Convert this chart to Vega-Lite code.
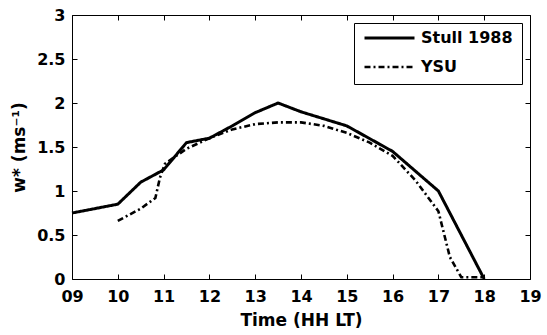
{
  "$schema": "https://vega.github.io/schema/vega-lite/v6.json",
  "width": 458,
  "height": 264,
  "autosize": {"type": "none"},
  "padding": {"left": 72, "top": 15, "right": 17, "bottom": 56},
  "background": "white",
  "config": {
    "font": "DejaVu Sans",
    "view": {"stroke": "black", "strokeWidth": 1},
    "axis": {
      "grid": false,
      "domain": false,
      "tickColor": "black",
      "tickSize": -5,
      "tickWidth": 1,
      "labelColor": "black",
      "labelFont": "DejaVu Sans",
      "labelFontWeight": "bold",
      "labelFontSize": 16,
      "titleColor": "black",
      "titleFont": "DejaVu Sans",
      "titleFontWeight": "bold",
      "titleFontSize": 17
    }
  },
  "data": {
    "values": [
      {"series": "Stull 1988", "time": 9, "w": 0.75},
      {"series": "Stull 1988", "time": 10, "w": 0.85},
      {"series": "Stull 1988", "time": 10.5, "w": 1.1},
      {"series": "Stull 1988", "time": 11, "w": 1.24},
      {"series": "Stull 1988", "time": 11.5, "w": 1.55},
      {"series": "Stull 1988", "time": 12, "w": 1.6},
      {"series": "Stull 1988", "time": 12.5, "w": 1.74},
      {"series": "Stull 1988", "time": 13, "w": 1.89},
      {"series": "Stull 1988", "time": 13.5, "w": 2.0},
      {"series": "Stull 1988", "time": 14, "w": 1.9},
      {"series": "Stull 1988", "time": 15, "w": 1.74},
      {"series": "Stull 1988", "time": 16, "w": 1.45},
      {"series": "Stull 1988", "time": 17, "w": 1.0},
      {"series": "Stull 1988", "time": 18, "w": 0.0},
      {"series": "YSU", "time": 10, "w": 0.66},
      {"series": "YSU", "time": 10.5, "w": 0.8},
      {"series": "YSU", "time": 10.82, "w": 0.92},
      {"series": "YSU", "time": 10.92, "w": 1.15},
      {"series": "YSU", "time": 11.03, "w": 1.31},
      {"series": "YSU", "time": 11.5, "w": 1.48},
      {"series": "YSU", "time": 12, "w": 1.6},
      {"series": "YSU", "time": 12.5, "w": 1.7},
      {"series": "YSU", "time": 13, "w": 1.76},
      {"series": "YSU", "time": 13.5, "w": 1.78},
      {"series": "YSU", "time": 14, "w": 1.78},
      {"series": "YSU", "time": 14.5, "w": 1.74},
      {"series": "YSU", "time": 15, "w": 1.66},
      {"series": "YSU", "time": 15.5, "w": 1.55},
      {"series": "YSU", "time": 16, "w": 1.4},
      {"series": "YSU", "time": 16.5, "w": 1.12},
      {"series": "YSU", "time": 17, "w": 0.77},
      {"series": "YSU", "time": 17.25, "w": 0.25},
      {"series": "YSU", "time": 17.5, "w": 0.02},
      {"series": "YSU", "time": 18, "w": 0.02}
    ]
  },
  "layer": [
    {
      "mark": {"type": "line", "color": "black", "strokeCap": "butt"},
      "encoding": {
        "x": {
          "field": "time",
          "type": "quantitative",
          "scale": {"domain": [9, 19], "nice": false, "zero": false},
          "axis": {
            "orient": "bottom",
            "values": [9, 10, 11, 12, 13, 14, 15, 16, 17, 18, 19],
            "labelExpr": "datum.value < 10 ? '0' + datum.value : '' + datum.value",
            "labelPadding": 14,
            "labelFlush": false,
            "labelOverlap": false,
            "title": "Time (HH LT)",
            "titlePadding": 8
          }
        },
        "y": {
          "field": "w",
          "type": "quantitative",
          "scale": {"domain": [0, 3], "nice": false},
          "axis": {
            "orient": "left",
            "values": [0, 0.5, 1, 1.5, 2, 2.5, 3],
            "format": "~g",
            "labelPadding": 12,
            "labelFlush": false,
            "labelOverlap": false,
            "title": "w* (ms⁻¹)",
            "titlePadding": 8
          }
        },
        "strokeDash": {
          "field": "series",
          "type": "nominal",
          "scale": {"domain": ["Stull 1988", "YSU"], "range": [[1, 0], [6, 3, 2, 3]]},
          "legend": {
            "title": null,
            "orient": "top-right",
            "offset": 8,
            "strokeColor": "black",
            "fillColor": "white",
            "padding": 9,
            "symbolType": "stroke",
            "symbolSize": 2500,
            "symbolStrokeColor": "black",
            "symbolStrokeWidth": 2.8,
            "clipHeight": 12,
            "rowPadding": 13,
            "labelOffset": 5,
            "labelFont": "DejaVu Sans",
            "labelFontWeight": "bold",
            "labelFontSize": 16,
            "labelColor": "black"
          }
        },
        "strokeWidth": {
          "field": "series",
          "type": "nominal",
          "scale": {"domain": ["Stull 1988", "YSU"], "range": [3, 2.6]},
          "legend": null
        }
      }
    },
    {
      "mark": {"type": "line", "opacity": 0},
      "encoding": {
        "x": {
          "field": "time",
          "type": "quantitative",
          "axis": {
            "orient": "top",
            "values": [9, 10, 11, 12, 13, 14, 15, 16, 17, 18, 19],
            "labels": false,
            "title": null
          }
        },
        "y": {
          "field": "w",
          "type": "quantitative",
          "axis": {
            "orient": "right",
            "values": [0, 0.5, 1, 1.5, 2, 2.5, 3],
            "labels": false,
            "title": null
          }
        },
        "detail": {"field": "series", "type": "nominal"}
      }
    }
  ],
  "resolve": {"axis": {"x": "independent", "y": "independent"}}
}
